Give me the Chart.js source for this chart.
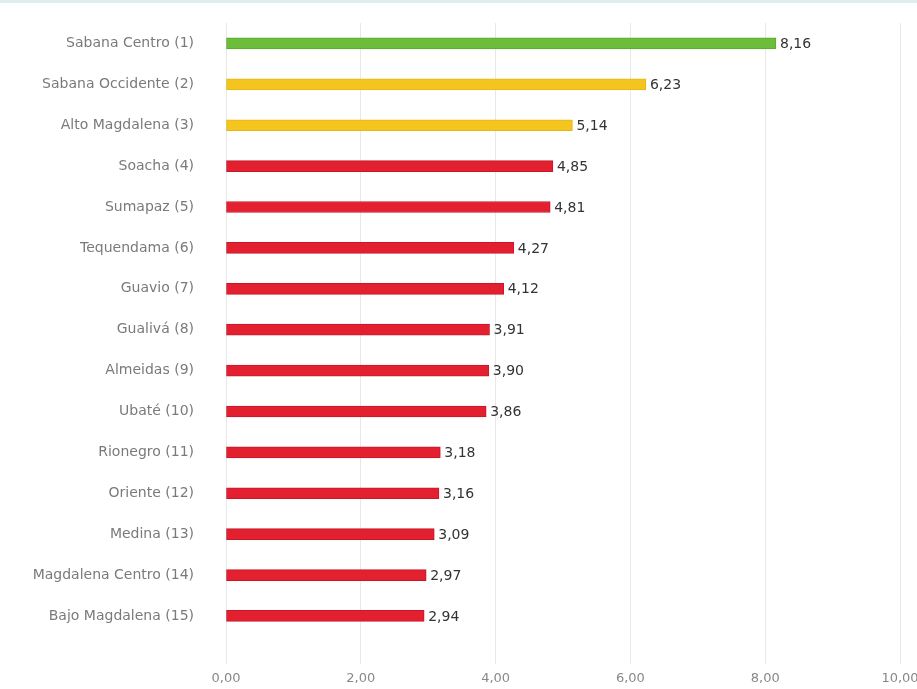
<!DOCTYPE html>
<html>
<head>
<meta charset="utf-8">
<script src="https://cdn.jsdelivr.net/npm/chart.js@4.4.0/dist/chart.umd.min.js"></script>
<style>
  html, body { margin: 0; padding: 0; background: #fff; }
  #wrap { width: 917px; height: 689px; position: relative; border-top: 3px solid #dcefee; box-sizing: border-box; }
</style>
</head>
<body>
<div id="wrap"><canvas id="chart"></canvas></div>
<script>
const provincias = [
  'Sabana Centro (1)', 'Sabana Occidente (2)', 'Alto Magdalena (3)', 'Soacha (4)',
  'Sumapaz (5)', 'Tequendama (6)', 'Guavio (7)', 'Gualivá (8)', 'Almeidas (9)',
  'Ubaté (10)', 'Rionegro (11)', 'Oriente (12)', 'Medina (13)',
  'Magdalena Centro (14)', 'Bajo Magdalena (15)'
];
const puntajes = [8.16, 6.23, 5.14, 4.85, 4.81, 4.27, 4.12, 3.91, 3.90, 3.86, 3.18, 3.16, 3.09, 2.97, 2.94];
const ticksX = [0, 2, 4, 6, 8, 10];

// color por nivel: verde > 7, amarillo > 5, rojo el resto
function colorDe(v) {
  if (v >= 7) return '#6bbd3a';
  if (v >= 5) return '#f4c51f';
  return '#e3202f';
}
function bordeDe(v) {
  if (v >= 7) return '#5aa830';
  if (v >= 5) return '#e6b616';
  return '#c8172a';
}

const fmt = v => v.toFixed(2).replace('.', ',');

// etiquetas de valor al final de cada barra
const etiquetas = {
  id: 'etiquetas',
  afterDatasetsDraw(chart) {
    const ctx = chart.ctx;
    const meta = chart.getDatasetMeta(0);
    ctx.save();
    ctx.font = '14px "DejaVu Sans"';
    ctx.fillStyle = '#333';
    ctx.textBaseline = 'middle';
    meta.data.forEach((bar, i) => {
      ctx.fillText(fmt(puntajes[i]), bar.x + 4, bar.y + 1);
    });
    ctx.restore();
  }
};

const ctx = document.getElementById('chart').getContext('2d');
new Chart(ctx, {
  type: 'bar',
  data: {
    labels: provincias,
    datasets: [{
      data: puntajes,
      backgroundColor: puntajes.map(colorDe),
      borderColor: puntajes.map(bordeDe),
      borderWidth: 1,
      barThickness: 11,
      borderSkipped: false
    }]
  },
  options: {
    indexAxis: 'y',
    responsive: true,
    maintainAspectRatio: false,
    animation: false,
    layout: { padding: { left: 0, right: 17, top: 20, bottom: -3 } },
    plugins: { legend: { display: false }, tooltip: { enabled: false } },
    scales: {
      x: {
        min: 0,
        max: 10,
        afterBuildTicks: axis => { axis.ticks = ticksX.map(v => ({ value: v })); },
        afterFit: axis => { axis.paddingLeft = 0; axis.paddingRight = 0; },
        ticks: {
          callback: v => fmt(v),
          color: '#888',
          font: { family: 'DejaVu Sans', size: 13 },
          padding: 6
        },
        grid: { color: '#e8e8e8', tickLength: 28, drawTicks: true },
        border: { display: false }
      },
      y: {
        afterFit: axis => { axis.width = 226; axis.paddingTop = 0; axis.paddingBottom = 0; },
        ticks: {
          color: '#7a7a7a',
          font: { family: 'DejaVu Sans', size: 14 },
          padding: 24
        },
        grid: { display: false },
        border: { display: false }
      }
    }
  },
  plugins: [etiquetas]
});
</script>
</body>
</html>
